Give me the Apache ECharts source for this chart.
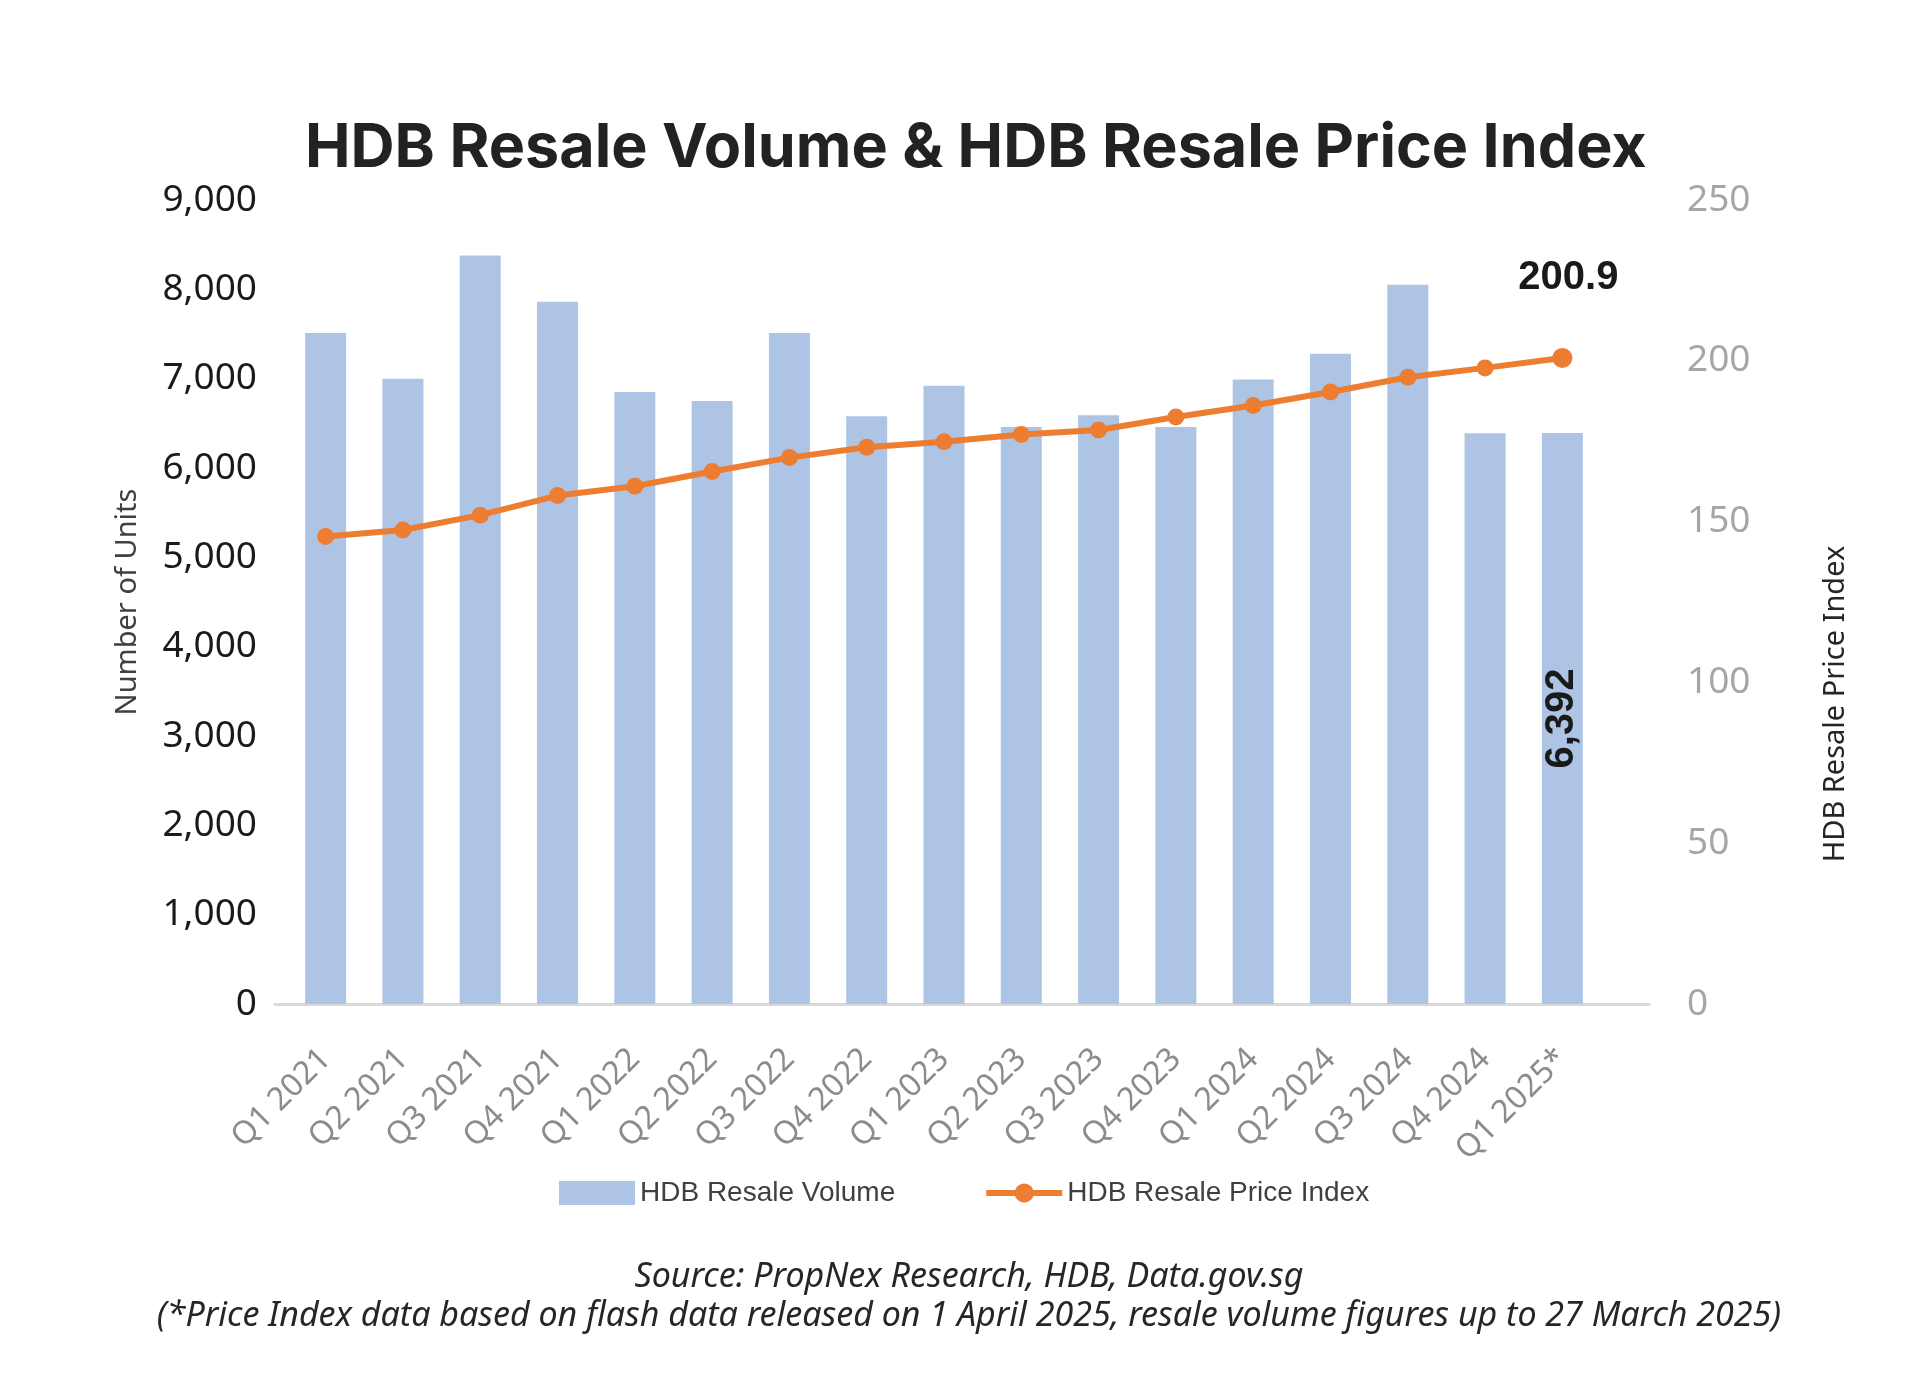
<!DOCTYPE html>
<html>
<head>
<meta charset="utf-8">
<title>HDB Resale Volume & HDB Resale Price Index</title>
<script src="https://cdn.jsdelivr.net/npm/echarts@6/dist/echarts.min.js"></script>
<style>
html, body { margin: 0; padding: 0; background: #fff; }
#main { width: 1920px; height: 1389px; }
</style>
</head>
<body>
<div id="main"></div>
<script>
// quarters on the x axis
var quarters = ['Q1 2021', 'Q2 2021', 'Q3 2021', 'Q4 2021', 'Q1 2022', 'Q2 2022', 'Q3 2022', 'Q4 2022',
    'Q1 2023', 'Q2 2023', 'Q3 2023', 'Q4 2023', 'Q1 2024', 'Q2 2024', 'Q3 2024', 'Q4 2024', 'Q1 2025*'];

// resale volume (units)
var resaleVolume = [7510, 7000, 8380, 7860, 6850, 6750, 7510, 6580,
    6920, 6460, 6590, 6460, 6990, 7280, 8050, 6390, 6392];

// resale price index
var priceIndex = [145.4, 147.4, 152.0, 158.1, 161.0, 165.6, 169.9, 173.1,
    174.8, 177.1, 178.5, 182.5, 186.1, 190.3, 194.9, 197.8, 200.9];

var volumeTicks = { min: 0, max: 9000, interval: 1000 };
var indexTicks = { min: 0, max: 250, interval: 50 };

var barColor = '#aec4e5';
var lineColor = '#ed7d31';
var arial = '"Liberation Sans", Arial, sans-serif';
var sans = '"Noto Sans", "Open Sans", sans-serif';

var myChart = echarts.init(document.getElementById('main'));

// only the last bar and last point carry a value label
var last = quarters.length - 1;
var barData = resaleVolume.map(function (v, i) {
    if (i !== last) return v;
    return {
        value: v,
        label: {
            show: true,
            position: 'inside',
            rotate: 90,
            formatter: function (p) { return p.value.toLocaleString('en-US'); },
            fontFamily: arial,
            fontWeight: 'bold',
            fontSize: 40,
            color: '#1a1a1a'
        }
    };
});
var lineData = priceIndex.map(function (v, i) {
    if (i !== last) return v;
    return {
        value: v,
        symbolSize: 20,
        label: {
            show: true,
            position: 'top',
            distance: 50,
            offset: [6, 0],
            formatter: function (p) { return p.value.toFixed(1); },
            fontFamily: arial,
            fontWeight: 'bold',
            fontSize: 40,
            color: '#1a1a1a'
        }
    };
});

option = {
    backgroundColor: '#ffffff',
    animation: false,
    title: {
        text: 'HDB Resale Volume & HDB Resale Price Index',
        left: 305,
        top: 118,
        padding: 0,
        textStyle: {
            fontFamily: 'Inter, "Noto Sans", sans-serif',
            fontWeight: 'bold',
            fontSize: 61,
            color: '#222222'
        }
    },
    legend: {
        left: 554,
        top: 1174,
        itemWidth: 76,
        itemHeight: 24,
        itemGap: 88,
        lineStyle: { width: 6 },
        textStyle: {
            fontFamily: arial,
            fontSize: 28,
            color: '#404040'
        },
        data: [
            { name: 'HDB Resale Volume', icon: 'rect' },
            { name: 'HDB Resale Price Index' }
        ]
    },
    grid: [
        { left: 287, right: 319, top: 200, bottom: 385 },
        // wider box only for the long baseline under the bars
        { left: 275, right: 271, top: 200, bottom: 385 }
    ],
    xAxis: [
        {
            type: 'category',
            gridIndex: 0,
            data: quarters,
            axisLine: { show: false },
            axisTick: { show: false },
            axisLabel: {
                rotate: 45,
                margin: 50,
                fontFamily: sans,
                fontSize: 32,
                color: '#8c8c8c'
            }
        },
        {
            type: 'value',
            gridIndex: 1,
            min: 0,
            max: 1,
            axisLine: { show: true, lineStyle: { color: '#d9d9d9', width: 3 } },
            axisTick: { show: false },
            axisLabel: { show: false },
            splitLine: { show: false }
        }
    ],
    yAxis: [
        {
            type: 'value',
            gridIndex: 0,
            min: volumeTicks.min,
            max: volumeTicks.max,
            interval: volumeTicks.interval,
            name: 'Number of Units',
            nameLocation: 'middle',
            nameGap: 145,
            nameTextStyle: {
                fontFamily: sans,
                fontSize: 29,
                color: '#404040'
            },
            axisLine: { show: false },
            axisTick: { show: false },
            splitLine: { show: false },
            axisLabel: {
                margin: 30,
                formatter: function (v) { return v.toLocaleString('en-US'); },
                fontFamily: sans,
                fontSize: 37,
                color: '#1a1a1a'
            }
        },
        {
            type: 'value',
            gridIndex: 0,
            position: 'right',
            min: indexTicks.min,
            max: indexTicks.max,
            interval: indexTicks.interval,
            axisLine: { show: false },
            axisTick: { show: false },
            splitLine: { show: false },
            axisLabel: {
                margin: 86,
                fontFamily: sans,
                fontSize: 37,
                color: '#a6a6a6'
            }
        },
        {
            type: 'value',
            gridIndex: 1,
            min: 0,
            max: 1,
            show: false
        }
    ],
    graphic: [
        {
            type: 'text',
            x: 1836,
            y: 704,
            rotation: Math.PI / 2,
            style: {
                text: 'HDB Resale Price Index',
                font: '29px ' + sans,
                fill: '#262626',
                textAlign: 'center',
                textVerticalAlign: 'middle'
            }
        },
        {
            type: 'text',
            x: 969,
            y: 1277,
            style: {
                text: 'Source: PropNex Research, HDB, Data.gov.sg',
                font: 'italic 34px "Noto Sans", sans-serif',
                fill: '#262626',
                textAlign: 'center',
                textVerticalAlign: 'middle'
            }
        },
        {
            type: 'text',
            x: 969,
            y: 1316,
            style: {
                text: '(*Price Index data based on flash data released on 1 April 2025, resale volume figures up to 27 March 2025)',
                font: 'italic 34px "Noto Sans", sans-serif',
                fill: '#262626',
                textAlign: 'center',
                textVerticalAlign: 'middle'
            }
        }
    ],
    series: [
        {
            name: 'HDB Resale Volume',
            type: 'bar',
            xAxisIndex: 0,
            yAxisIndex: 0,
            barWidth: 41,
            itemStyle: { color: barColor },
            data: barData
        },
        {
            name: 'HDB Resale Price Index',
            type: 'line',
            xAxisIndex: 0,
            yAxisIndex: 1,
            symbol: 'circle',
            symbolSize: 17,
            lineStyle: { color: lineColor, width: 6 },
            itemStyle: { color: lineColor },
            data: lineData
        }
    ]
};

myChart.setOption(option);
</script>
</body>
</html>
